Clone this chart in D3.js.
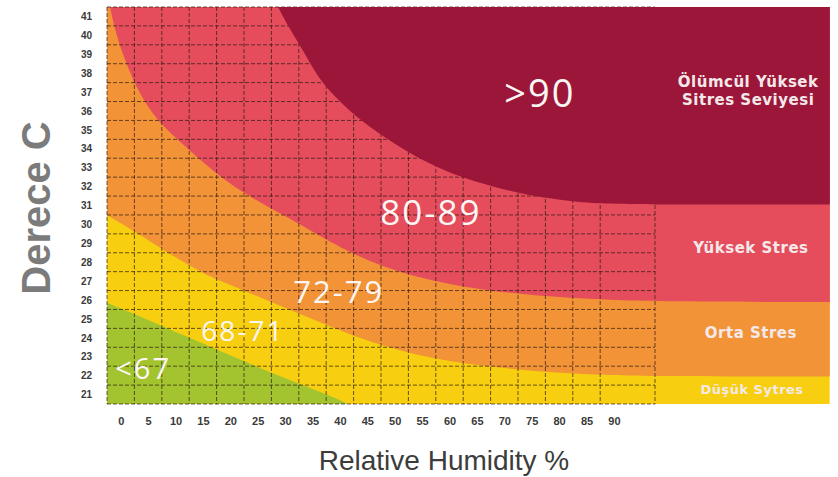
<!DOCTYPE html>
<html>
<head>
<meta charset="utf-8">
<script src="https://d3js.org/d3.v7.min.js"></script>
<style>
  body { margin: 0; background: #fff; }
  svg { display: block; }
</style>
</head>
<body>
<svg id="chart"></svg>
<script>
// axis ticks
var humidityTicks = [0, 5, 10, 15, 20, 25, 30, 35, 40, 45, 50, 55, 60, 65, 70, 75, 80, 85, 90];
var tempTicks = [21, 22, 23, 24, 25, 26, 27, 28, 29, 30, 31, 32, 33, 34, 35, 36, 37, 38, 39, 40, 41];

// zone edges, [humidity %, degrees C]
var edge67 = [[-2.5, 25.85], [2.2, 25.3], [11.4, 24.15], [20.5, 23.0], [29.6, 21.9], [38.7, 20.9], [41.8, 20.45]];
var edge72 = [[-2.5, 30.5], [3, 29.55], [7.7, 28.65], [13.9, 27.6], [17.6, 27.06], [26.7, 26.0], [34.5, 25.05],
              [44.9, 23.8], [57, 22.85], [69.2, 22.4], [81.4, 22.1], [96.6, 21.95], [130, 21.95]];
var edge80 = [[-1.95, 41.5], [-1.04, 40.28], [0.42, 38.96], [2.24, 37.64], [4.43, 36.42], [7.54, 35.2], [12.65, 33.9],
              [18.1, 32.5], [23.6, 31.45], [30.3, 30.4], [35.1, 29.6], [44.9, 28.0], [57, 26.95], [69.2, 26.4],
              [81.4, 26.1], [96.6, 25.9], [130, 25.9]];
var edge90 = [[28.7, 41.5], [30.9, 40.3], [33.3, 39.2], [36.0, 37.74], [39.65, 36.58], [43.7, 35.5], [49.7, 34.3],
              [55.9, 33.25], [61.9, 32.5], [67.9, 32.0], [74.1, 31.55], [80.2, 31.3], [86.2, 31.1], [98.4, 31.05],
              [130, 31.05]];

// THI zone labels and stress labels (humidity, temperature)
var zoneLabels = [
  {text: ">90", h: 76.5, t: 36.95, size: 38},
  {text: "80-89", h: 56.6, t: 30.66, size: 35},
  {text: "72-79", h: 39.8, t: 26.42, size: 31},
  {text: "68-71", h: 22.3, t: 24.36, size: 28},
  {text: "<67", h: 4.1, t: 22.35, size: 29}
];
var stressLabels = [
  {lines: ["Ölümcül Yüksek", "Sitres Seviyesi"], h: 114.5, t: 37.08, size: 15},
  {lines: ["Yüksek Stres"], h: 115, t: 28.75, size: 15},
  {lines: ["Orta Stres"], h: 115, t: 24.26, size: 15},
  {lines: ["Düşük Sytres"], h: 115.2, t: 21.29, size: 13}
];

var width = 838, height = 477;
var gridEnd = 97.5, stripEnd = 129.4;

var colors = {
  dark: "#9c1639",
  red: "#e54d5c",
  orange: "#f29338",
  yellow: "#f7cf10",
  green: "#a3c42f"
};

var svg = d3.select("#chart").attr("width", width).attr("height", height);

var x = d3.scaleLinear().domain([-2.5, 97.5]).range([107, 655]);
var y = d3.scaleLinear().domain([20.5, 41.5]).range([404, 7]);

svg.append("clipPath").attr("id", "plot")
  .append("rect")
  .attr("x", x(-2.5)).attr("y", y(41.5))
  .attr("width", x(stripEnd) - x(-2.5))
  .attr("height", y(20.5) - y(41.5));

var plot = svg.append("g").attr("clip-path", "url(#plot)");

var above = d3.area()
  .curve(d3.curveBasis)
  .x(function (d) { return x(d[0]); })
  .y0(y(41.5))
  .y1(function (d) { return y(d[1]); });

var below = d3.area()
  .curve(d3.curveBasis)
  .x(function (d) { return x(d[0]); })
  .y0(y(20.5))
  .y1(function (d) { return y(d[1]); });

// base yellow
plot.append("rect")
  .attr("x", x(-2.5)).attr("y", y(41.5))
  .attr("width", x(stripEnd) - x(-2.5))
  .attr("height", y(20.5) - y(41.5))
  .attr("fill", colors.yellow);

plot.append("path").datum(edge67).attr("d", below).attr("fill", colors.green);
plot.append("path").datum(edge72).attr("d", above).attr("fill", colors.orange);
plot.append("path").datum(edge80).attr("d", above).attr("fill", colors.red);

// dashed grid
var grid = svg.append("g")
  .attr("stroke", "#2b1a12")
  .attr("stroke-opacity", 0.7)
  .attr("stroke-width", 1)
  .attr("stroke-dasharray", "4 2");

var colEdges = humidityTicks.map(function (h) { return h - 2.5; }).concat([gridEnd]);
var rowEdges = tempTicks.map(function (t) { return t - 0.5; }).concat([41.5]);

grid.selectAll(".v").data(colEdges).enter().append("line")
  .attr("x1", function (d) { return x(d); }).attr("x2", function (d) { return x(d); })
  .attr("y1", y(41.5)).attr("y2", y(20.5));

grid.selectAll(".h").data(rowEdges).enter().append("line")
  .attr("x1", x(-2.5)).attr("x2", x(gridEnd))
  .attr("y1", function (d) { return y(d); }).attr("y2", function (d) { return y(d); });

// deadly zone sits over the grid
svg.append("g").attr("clip-path", "url(#plot)")
  .append("path").datum(edge90).attr("d", above).attr("fill", colors.dark);

// axes
var xAxis = svg.append("g")
  .attr("transform", "translate(0," + y(20.5) + ")")
  .call(d3.axisBottom(x).tickValues(humidityTicks).tickSize(0).tickPadding(13));
xAxis.select(".domain").remove();
xAxis.selectAll("text")
  .attr("font-family", "Liberation Sans, Arial, sans-serif")
  .attr("font-size", 11).attr("font-weight", "bold").attr("fill", "#3a3a3a");

var yAxis = svg.append("g")
  .attr("transform", "translate(" + x(-2.5) + ",0)")
  .call(d3.axisLeft(y).tickValues(tempTicks).tickSize(0).tickPadding(15));
yAxis.select(".domain").remove();
yAxis.selectAll("text")
  .attr("font-family", "Liberation Sans, Arial, sans-serif")
  .attr("font-size", 10).attr("font-weight", "bold").attr("fill", "#3a3a3a");

// titles
svg.append("text")
  .attr("transform", "translate(50,208)rotate(-90)")
  .attr("text-anchor", "middle")
  .attr("font-family", "Liberation Sans, Arial, sans-serif")
  .attr("font-size", 40).attr("font-weight", "bold")
  .attr("fill", "#7b7b7b")
  .text("Derece C");

svg.append("text")
  .attr("x", 444).attr("y", 470)
  .attr("text-anchor", "middle")
  .attr("font-family", "Liberation Sans, Arial, sans-serif")
  .attr("font-size", 28)
  .attr("fill", "#3c3c3c")
  .text("Relative Humidity %");

// zone labels
svg.selectAll(".zone").data(zoneLabels).enter().append("text")
  .attr("x", function (d) { return x(d.h); })
  .attr("y", function (d) { return y(d.t); })
  .attr("dy", "0.36em")
  .attr("text-anchor", "middle")
  .attr("font-family", "Open Sans, DejaVu Sans, sans-serif")
  .attr("font-size", function (d) { return d.size; })
  .attr("letter-spacing", 2)
  .attr("fill", "#fbf6f4")
  .text(function (d) { return d.text; });

// stress labels on the right strip
var stress = svg.selectAll(".stress").data(stressLabels).enter().append("text")
  .attr("x", function (d) { return x(d.h); })
  .attr("y", function (d) { return y(d.t); })
  .attr("text-anchor", "middle")
  .attr("font-family", "DejaVu Sans, Verdana, sans-serif")
  .attr("font-weight", "bold")
  .attr("letter-spacing", 0.5)
  .attr("font-size", function (d) { return d.size; })
  .attr("fill", "#f4e9ea");

stress.each(function (d) {
  var n = d.lines.length;
  d3.select(this).selectAll("tspan").data(d.lines).enter().append("tspan")
    .attr("x", x(d.h))
    .attr("dy", function (l, i) { return i === 0 ? (0.36 - (n - 1) * 0.6) + "em" : "1.2em"; })
    .text(function (l) { return l; });
});
</script>
</body>
</html>
